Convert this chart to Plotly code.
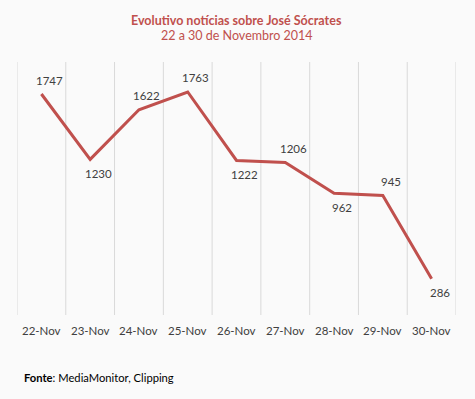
import plotly.graph_objects as go

categories = ["22-Nov", "23-Nov", "24-Nov", "25-Nov", "26-Nov", "27-Nov", "28-Nov", "29-Nov", "30-Nov"]
values = [1747, 1230, 1622, 1763, 1222, 1206, 962, 945, 286]

# label placement: +1 above the point, -1 below
label_side = [1, -1, 1, 1, -1, 1, -1, 1, -1]

red = "#C0504D"
font = "Lato, 'Open Sans', sans-serif"

fig = go.Figure()
fig.add_trace(go.Scatter(
    x=categories, y=values, mode="lines",
    line=dict(color=red, width=3),
    hoverinfo="skip", showlegend=False,
))

for c, v, s in zip(categories, values, label_side):
    fig.add_annotation(x=c, y=v, xref="x", yref="y", text=str(v), showarrow=False,
                       xshift=8, yshift=14 * s,
                       font=dict(size=11.5, color="#404040", family=font))

fig.update_layout(
    width=475, height=399,
    margin=dict(l=17, r=19, t=62, b=84),
    paper_bgcolor="#FAFAFA", plot_bgcolor="#FAFAFA",
    font=dict(family=font, color="#404040", size=11.5),
    xaxis=dict(type="category", range=[-0.5, 8.5], showgrid=False,
               showticklabels=False, showline=False, ticks=""),
    yaxis=dict(range=[0, 2000], showgrid=False, showticklabels=False,
               zeroline=False, showline=False),
)
# vertical gridlines at category boundaries
for i in range(10):
    fig.add_shape(type="line", xref="x", yref="paper", x0=i - 0.5, x1=i - 0.5,
                  y0=0, y1=1, line=dict(color="#D9D9D9", width=1), layer="below")
# category labels
for i, c in enumerate(categories):
    fig.add_annotation(x=c, y=-(330 - 315) / 253, xref="x", yref="paper", text=c,
                       showarrow=False, yanchor="middle",
                       font=dict(size=11.5, color="#404040", family=font))

fig.add_annotation(xref="paper", yref="paper", x=0.5, xanchor="center",
                   y=1 + (62 - 20) / 253, yanchor="middle",
                   text="<b>Evolutivo notícias sobre José Sócrates</b>", showarrow=False,
                   font=dict(size=12.5, color=red, family=font))
fig.add_annotation(xref="paper", yref="paper", x=0.5, xanchor="center",
                   y=1 + (62 - 36) / 253, yanchor="middle",
                   text="22 a 30 de Novembro 2014", showarrow=False,
                   font=dict(size=12.5, color=red, family=font))
fig.add_annotation(xref="paper", yref="paper", x=(22 - 17) / 439, xanchor="left",
                   y=-(377 - 315) / 253, yanchor="middle",
                   text="<b>Fonte</b>: MediaMonitor, Clipping", showarrow=False,
                   font=dict(size=11.2, color="#000000", family=font))

fig.write_html("out.html", config={"displayModeBar": False},
               post_script="document.body.style.margin='0px';")
